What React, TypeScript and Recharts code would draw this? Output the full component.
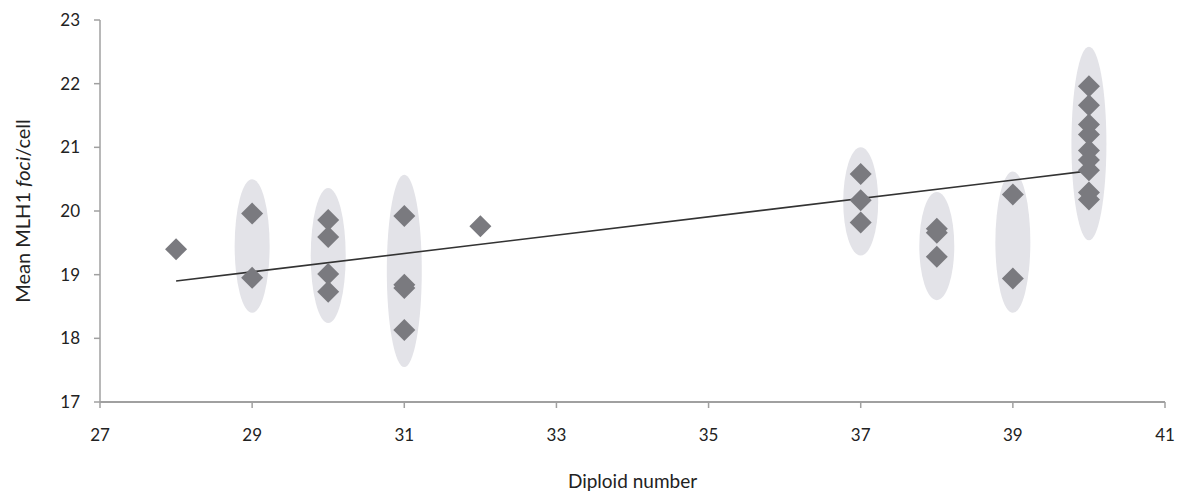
import React from 'react';
import {
  ScatterChart, Scatter, XAxis, YAxis, ReferenceArea, ReferenceLine,
} from 'recharts';

// diploid number / mean MLH1 foci per cell, one entry per animal
const diploid = [
  28,
  29, 29,
  30, 30, 30, 30,
  31, 31, 31, 31,
  32,
  37, 37, 37,
  38, 38, 38,
  39, 39,
  40, 40, 40, 40, 40, 40, 40, 40, 40,
];
const meanFoci = [
  19.4,
  19.96, 18.95,
  19.86, 19.59, 19.01, 18.73,
  19.92, 18.84, 18.79, 18.13,
  19.76,
  20.58, 20.17, 19.82,
  19.72, 19.66, 19.28,
  20.26, 18.94,
  21.96, 21.66, 21.36, 21.2, 20.95, 20.8, 20.64, 20.29, 20.18,
];

// grey ellipses grouping the karyotype races
const groupX = [29, 30, 31, 37, 38, 39, 40];
const groupTop = [20.5, 20.36, 20.57, 21.0, 20.3, 20.62, 22.58];
const groupBottom = [18.4, 18.24, 17.55, 19.3, 18.6, 18.4, 19.54];
const groupHalfWidth = 0.23;

// linear trend line
const trendX = [28, 40];
const trendY = [18.9, 20.63];

const xTicks = [27, 29, 31, 33, 35, 37, 39, 41];
const yTicks = [17, 18, 19, 20, 21, 22, 23];

const points = diploid.map((x, i) => ({ x, y: meanFoci[i] }));

const FONT = 'Lato, "Open Sans", sans-serif';

const Diamond = (props: any) => {
  const { cx, cy } = props;
  const r = 11;
  return (
    <polygon
      points={`${cx},${cy - r} ${cx + r},${cy} ${cx},${cy + r} ${cx - r},${cy}`}
      fill="#7a7a7f"
    />
  );
};

const Ellipse = (props: any) => {
  const { x, y, width, height } = props;
  return (
    <ellipse
      cx={x + width / 2}
      cy={y + height / 2}
      rx={width / 2}
      ry={height / 2}
      fill="#e3e3e8"
    />
  );
};

const YTitle = (props: any) => {
  const { viewBox } = props;
  const cy = viewBox.y + viewBox.height / 2;
  return (
    <text
      x={22}
      y={cy}
      transform={`rotate(-90, 22, ${cy})`}
      textAnchor="middle"
      dominantBaseline="central"
      fontSize={20}
      fill="#222"
      fontFamily={FONT}
    >
      Mean MLH1 <tspan fontStyle="italic">foci</tspan>/cell
    </text>
  );
};

export default function App() {
  return (
    <div style={{ position: 'absolute', left: 0, top: 0, background: '#fff' }}>
      <ScatterChart
        width={1178}
        height={494}
        margin={{ top: 20, right: 13, left: 0, bottom: 0 }}
      >
        <XAxis
          type="number"
          dataKey="x"
          domain={[27, 41]}
          ticks={xTicks}
          interval={0}
          height={92}
          axisLine={{ stroke: '#a0a0a0', strokeWidth: 2 }}
          tickLine={{ stroke: '#a0a0a0', strokeWidth: 1.5 }}
          tickSize={6}
          tick={{ fontSize: 17, fill: '#222', fontFamily: FONT, dy: 19 }}
          label={{
            value: 'Diploid number',
            position: 'insideBottom',
            offset: 6,
            fontSize: 19,
            fill: '#222',
            fontFamily: FONT,
          }}
        />
        <YAxis
          type="number"
          dataKey="y"
          domain={[17, 23]}
          ticks={yTicks}
          interval={0}
          width={100}
          axisLine={{ stroke: '#a0a0a0', strokeWidth: 1.5 }}
          tickLine={{ stroke: '#a0a0a0', strokeWidth: 1.5 }}
          tickSize={6}
          tick={{ fontSize: 17, fill: '#222', fontFamily: FONT, dx: -12 }}
          label={<YTitle />}
        />
        {groupX.map((gx, i) => (
          <ReferenceArea
            key={gx}
            x1={gx - groupHalfWidth}
            x2={gx + groupHalfWidth}
            y1={groupBottom[i]}
            y2={groupTop[i]}
            shape={<Ellipse />}
            ifOverflow="visible"
          />
        ))}
        <ReferenceLine
          segment={[
            { x: trendX[0], y: trendY[0] },
            { x: trendX[1], y: trendY[1] },
          ]}
          stroke="#333"
          strokeWidth={1.6}
        />
        <Scatter data={points} shape={<Diamond />} isAnimationActive={false} />
      </ScatterChart>
    </div>
  );
}
